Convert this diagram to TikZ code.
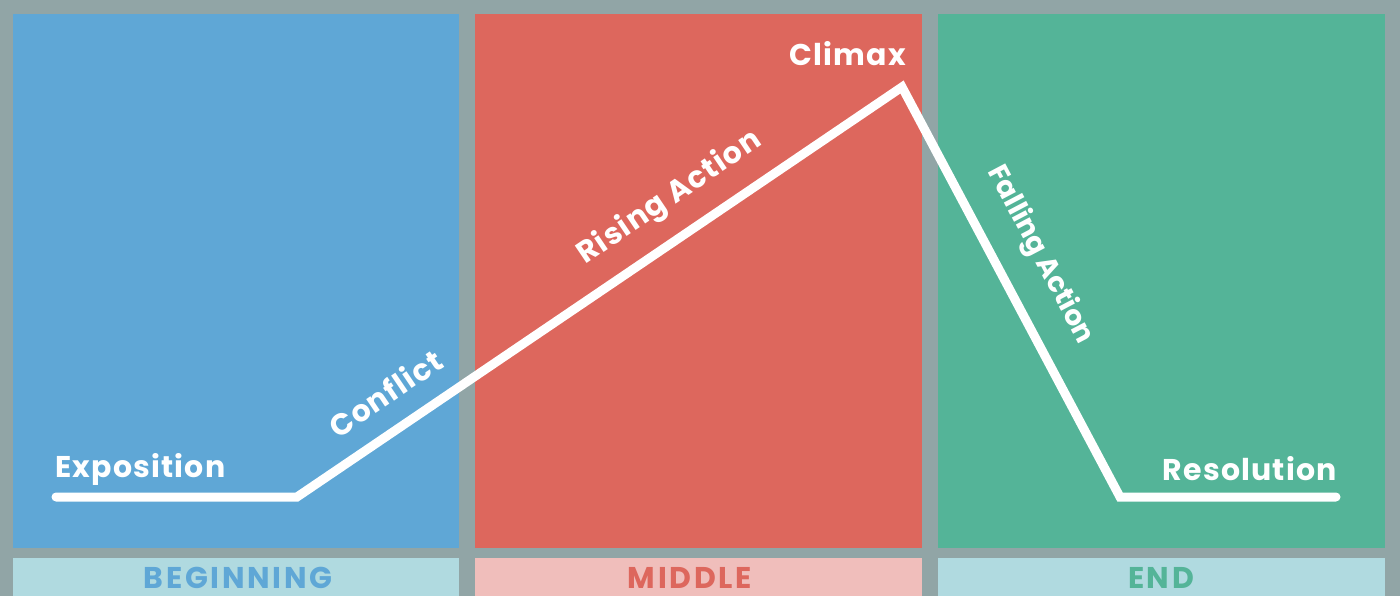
\documentclass[tikz,border=0pt]{standalone}
\usepackage{fontspec}
\setmainfont{Poppins}
\newfontfamily\lblfont{Poppins}[LetterSpace=4]
\newfontfamily\tagfont{Poppins}[LetterSpace=9]
\definecolor{bgc}{HTML}{91A5A6}
\definecolor{bluec}{HTML}{5FA7D6}
\definecolor{redc}{HTML}{DD675D}
\definecolor{greenc}{HTML}{54B498}
\definecolor{lblue}{HTML}{B0DAE0}
\definecolor{lred}{HTML}{F0BEBB}
\tikzset{
  lbl/.style={text=white,font=\lblfont\fontsize{30}{34}\selectfont\bfseries,inner sep=0pt},
  tag/.style={font=\tagfont\fontsize{30}{34}\selectfont\bfseries,inner sep=0pt,anchor=base},
  arc/.style={white,line width=9pt,line join=miter,line cap=round}
}
\begin{document}
\begin{tikzpicture}[x=1pt,y=-1pt]
\fill[bgc] (0,0) rectangle (1400,596);
\useasboundingbox (0,0) rectangle (1400,596);
% panels
\fill[bluec] (13,14) rectangle (459,548);
\fill[redc] (475,14) rectangle (922,548);
\fill[greenc] (938,14) rectangle (1385,548);
% bottom strips
\fill[lblue] (13,558) rectangle (459,600);
\fill[lred] (475,558) rectangle (922,600);
\fill[lblue] (938,558) rectangle (1385,600);
\node[tag,text=bluec] (beg) at (238,588) {BEGINNING};
\node[tag,text=redc] (mid) at (690,588) {MIDDLE};
\node[tag,text=greenc] (end) at (1161,588) {END};
% story arc
\coordinate (s) at (56,497);
\coordinate (c) at (297,497);
\coordinate (p) at (902,87);
\coordinate (r) at (1120,497);
\coordinate (e) at (1336,497);
\draw[arc] (s) -- (c) -- (p) -- (r) -- (e);
% labels
\node[lbl,anchor=base west] (expo) at (55,477) {Exposition};
\node[lbl,rotate=34.1] (conf) at (385,393) {Conflict};
\node[lbl,rotate=34.1] (rise) at (670,198) {Rising Action};
\node[lbl] (clim) at (848,54) {Climax};
\node[lbl,rotate=-62.2,font=\fontsize{28}{32}\selectfont\bfseries] (fall) at (1040,255) {Falling Action};
\node[lbl,anchor=base east] (reso) at (1337,480) {Resolution};
\end{tikzpicture}
\end{document}
